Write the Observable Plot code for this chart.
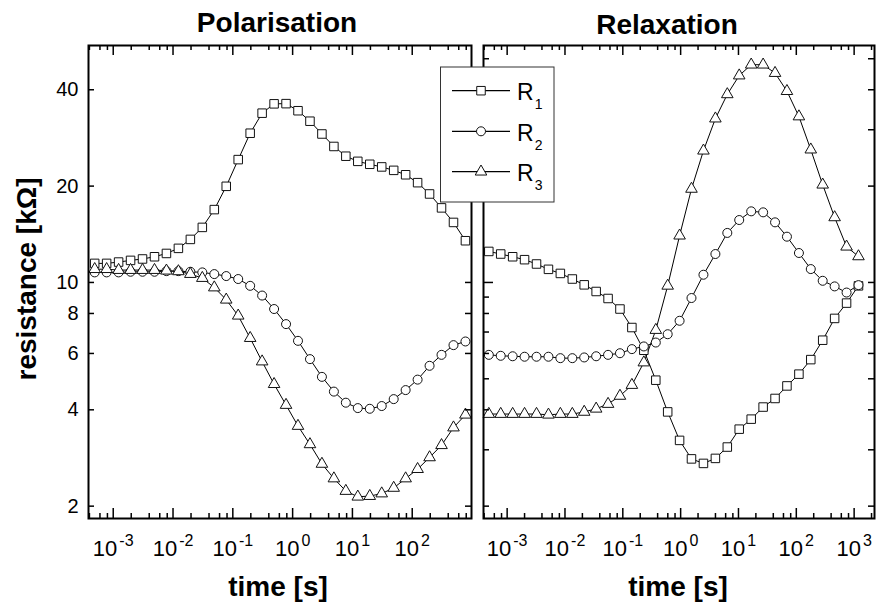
<!DOCTYPE html>
<html><head><meta charset="utf-8">
<script src="https://cdn.jsdelivr.net/npm/d3@7"></script>
<script src="https://cdn.jsdelivr.net/npm/@observablehq/plot@0.6"></script>
<style>
body{margin:0;background:#fff;}
#wrap{position:relative;width:876px;height:608px;overflow:hidden;background:#fff;font-family:"Liberation Sans",Arial,sans-serif;}
#wrap > svg{position:absolute;top:0;}
</style></head><body><div id="wrap"></div>
<script>
// ---- data ----
const seriesNames = ["R1", "R2", "R3"];
const seriesSub = ["1", "2", "3"];
const symbols = ["square", "circle", "triangle"];
const symbolR = [4.8, 4.5, 4.3];

const polTime = [4.90e-4, 7.76e-4, 1.23e-3, 1.95e-3, 3.09e-3, 4.90e-3, 7.76e-3, 0.0123, 0.0195, 0.0309, 0.049, 0.0776,
  0.123, 0.195, 0.309, 0.49, 0.776, 1.23, 1.95, 3.09, 4.9, 7.76, 12.3, 19.5, 30.9, 49, 77.6, 123, 195, 309, 490, 776];
const polR1 = [11.47, 11.47, 11.58, 11.72, 11.84, 12.03, 12.32, 12.78, 13.63, 14.86, 16.89, 19.97, 24.2, 29.26, 33.8, 36.15,
  36.2, 34.4, 31.9, 29.1, 26.6, 24.8, 23.9, 23.4, 22.96, 22.4, 21.7, 20.5, 18.9, 17.1, 15.4, 13.5];
const polR2 = [10.75, 10.75, 10.75, 10.8, 10.8, 10.8, 10.85, 10.85, 10.8, 10.75, 10.62, 10.47, 10.25, 9.76, 9.1, 8.26,
  7.41, 6.57, 5.76, 5.07, 4.56, 4.21, 4.05, 4.03, 4.11, 4.32, 4.61, 4.97, 5.49, 5.94, 6.37, 6.54];
const polR3 = [11.0, 11.0, 10.93, 10.93, 10.93, 10.93, 10.88, 10.83, 10.62, 10.32, 9.64, 8.83, 7.87, 6.70, 5.66, 4.81,
  4.14, 3.56, 3.12, 2.71, 2.44, 2.23, 2.14, 2.15, 2.19, 2.28, 2.44, 2.61, 2.84, 3.10, 3.52, 3.86];

const relTime = [4.82e-4, 7.74e-4, 1.245e-3, 2.00e-3, 3.22e-3, 5.18e-3, 8.32e-3, 0.0134, 0.0215, 0.0346, 0.0556, 0.0893,
  0.1435, 0.231, 0.372, 0.597, 0.959, 1.54, 2.48, 3.99, 6.41, 10.3, 16.6, 26.7, 42.9, 68.9, 111, 178, 286, 460, 740, 1189];
const relR1 = [12.5, 12.27, 12.03, 11.78, 11.42, 10.99, 10.67, 10.25, 9.83, 9.37, 8.91, 8.26, 7.23, 6.14, 4.95, 3.94,
  3.21, 2.81, 2.72, 2.82, 3.06, 3.48, 3.74, 4.08, 4.34, 4.75, 5.17, 5.74, 6.6, 7.72, 8.62, 9.76];
const relR2 = [5.94, 5.90, 5.88, 5.86, 5.86, 5.86, 5.80, 5.80, 5.83, 5.88, 5.94, 6.01, 6.19, 6.31, 6.49, 6.89,
  7.59, 8.94, 10.57, 12.27, 14.28, 15.67, 16.68, 16.56, 15.41, 13.9, 12.36, 11.01, 10.12, 9.72, 9.30, 9.81];
const relR3 = [3.88, 3.88, 3.88, 3.88, 3.88, 3.86, 3.88, 3.88, 3.94, 4.03, 4.17, 4.42, 4.78, 5.62, 7.10, 9.76,
  14.0, 19.6, 25.8, 32.5, 38.7, 44.3, 47.9, 47.9, 45.1, 39.6, 33.0, 26.0, 20.2, 15.97, 12.93, 12.06];

const polXTicks = [1e-3, 1e-2, 1e-1, 1, 10, 100];
const relXTicks = [1e-3, 1e-2, 1e-1, 1, 10, 100, 1000];
const minorMult = [2, 4, 6, 8];
const polYTicks = [2, 4, 6, 8, 10, 20, 40];
const polYLabels = [2, 4, 6, 8, 10, 20, 40];
const relYTicks = [2, 3, 4, 5, 6, 7, 8, 9, 20, 30, 40, 50];
const relYLong = [10];
const yDomain = [1.83, 55];
const polXDomain = [3.86e-4, 980];
const relXDomain = [3.9e-4, 2250];

const titles = ["Polarisation", "Relaxation"];
const xLabel = "time [s]";
const yLabel = "resistance [kΩ]";

// ---- drawing ----
const FONT = "Liberation Sans, Arial, Helvetica, sans-serif";
const H = 608, MT = 45, MB = 90;
const innerH = H - MT - MB;

function minorTicks(domain) {
  const out = [];
  for (let e = -5; e <= 4; e++) for (const m of minorMult) {
    const v = m * Math.pow(10, e);
    if (v > domain[0] && v < domain[1]) out.push(v);
  }
  return out;
}

function panel(o) {
  const innerW = o.width - o.ml - o.mr;
  const rows = [];
  o.series.forEach((vals, k) => vals.forEach((v, i) => rows.push({t: o.time[i], v, s: seriesNames[k]})));
  const minors = minorTicks(o.xDomain);
  const marks = [
    Plot.line(rows, {x: "t", y: "v", z: "s", stroke: "black", strokeWidth: 1}),
    ...seriesNames.map((name, k) => Plot.dot(rows.filter(d => d.s === name), {
      x: "t", y: "v", symbol: symbols[k], r: symbolR[k], fill: "white", stroke: "#111", strokeWidth: 1
    })),
    Plot.tickX(o.xTicks, {x: d => d, insetTop: innerH - 10, strokeWidth: 1.5}),
    Plot.tickX(o.xTicks, {x: d => d, insetBottom: innerH - 10, strokeWidth: 1.5}),
    Plot.tickX(minors, {x: d => d, insetTop: innerH - 5, strokeWidth: 1.5}),
    Plot.tickX(minors, {x: d => d, insetBottom: innerH - 5, strokeWidth: 1.5}),
    Plot.tickY(o.yTicks, {y: d => d, insetRight: innerW - 6, strokeWidth: 1.5}),
    Plot.tickY(o.yTicks, {y: d => d, insetLeft: innerW - 6, strokeWidth: 1.5}),
    Plot.axisX(o.xTicks, {anchor: "bottom", tickSize: 0, tickPadding: 22, fontSize: 22, label: null,
      tickFormat: d => "10^" + Math.round(Math.log10(d))}),
    Plot.frame({stroke: "black", strokeWidth: 2})
  ];
  if (o.yLong) {
    marks.push(Plot.tickY(o.yLong, {y: d => d, insetRight: innerW - 10, strokeWidth: 1.5}));
    marks.push(Plot.tickY(o.yLong, {y: d => d, insetLeft: innerW - 6, strokeWidth: 1.5}));
  }
  if (o.yLabels) {
    marks.push(Plot.axisY(o.yLabels, {anchor: "left", tickSize: 0, tickPadding: 10, fontSize: 20, label: null}));
  }
  const svg = Plot.plot({
    width: o.width, height: H,
    marginLeft: o.ml, marginRight: o.mr, marginTop: MT, marginBottom: MB,
    x: {type: "log", domain: o.xDomain, label: null},
    y: {type: "log", domain: yDomain, label: null, axis: o.yLabels ? undefined : null},
    style: {fontFamily: FONT, background: "transparent", color: "black", overflow: "visible"},
    marks
  });
  const s = d3.select(svg);
  s.selectAll('[aria-label="x-axis tick label"] text').each(function () {
    const str = this.textContent;
    const [b, e] = str.split("^");
    const t = d3.select(this);
    t.text(null).style("font-size", "22px");
    t.append("tspan").text(b);
    t.append("tspan").attr("dy", "-10").attr("dx", "2").style("font-size", "16px").text(e);
  });
  s.selectAll('[aria-label="y-axis tick label"] text').style("font-size", "20px");
  svg.style.left = o.left + "px";
  return svg;
}

const wrap = document.getElementById("wrap");
wrap.appendChild(panel({
  left: 0, width: 476, ml: 88, mr: 5, time: polTime, series: [polR1, polR2, polR3],
  xDomain: polXDomain, xTicks: polXTicks, yTicks: polYTicks, yLabels: polYLabels
}));
wrap.appendChild(panel({
  left: 476, width: 400, ml: 7, mr: 2, time: relTime, series: [relR1, relR2, relR3],
  xDomain: relXDomain, xTicks: relXTicks, yTicks: relYTicks, yLong: relYLong
}));

// ---- text overlay & legend ----
const ov = d3.select(wrap).append("svg").attr("width", 876).attr("height", 608)
  .style("left", "0px").style("font-family", FONT);
ov.append("text").attr("x", 277).attr("y", 32).attr("text-anchor", "middle")
  .attr("font-size", 28).attr("font-weight", "bold").text(titles[0]);
ov.append("text").attr("x", 667).attr("y", 34).attr("text-anchor", "middle")
  .attr("font-size", 28).attr("font-weight", "bold").text(titles[1]);
ov.append("text").attr("x", 278).attr("y", 596).attr("text-anchor", "middle")
  .attr("font-size", 28).attr("font-weight", "bold").text(xLabel);
ov.append("text").attr("x", 678).attr("y", 596).attr("text-anchor", "middle")
  .attr("font-size", 28).attr("font-weight", "bold").text(xLabel);
ov.append("text").attr("transform", "translate(36,279) rotate(-90)").attr("text-anchor", "middle")
  .attr("font-size", 28).attr("font-weight", "bold").text(yLabel);

const lg = ov.append("g");
lg.append("rect").attr("x", 440.5).attr("y", 67).attr("width", 113.5).attr("height", 135)
  .attr("fill", "white").attr("stroke", "#333").attr("stroke-width", 1);
const rowY = [90.7, 131.3, 171.7];
const d3sym = {square: d3.symbolSquare, circle: d3.symbolCircle, triangle: d3.symbolTriangle};
seriesNames.forEach((name, k) => {
  const y = rowY[k];
  lg.append("line").attr("x1", 452).attr("x2", 510).attr("y1", y).attr("y2", y)
    .attr("stroke", "black").attr("stroke-width", 1.2);
  lg.append("path").attr("transform", `translate(481,${y})`)
    .attr("d", d3.symbol(d3sym[symbols[k]], symbolR[k] * symbolR[k] * Math.PI)())
    .attr("fill", "white").attr("stroke", "#111");
  const t = lg.append("text").attr("x", 517).attr("y", y + 9.5).attr("font-size", 23);
  t.append("tspan").text(name.charAt(0));
  t.append("tspan").attr("dy", 9).attr("dx", 1).attr("font-size", 14).text(seriesSub[k]);
});
</script>
</body></html>
